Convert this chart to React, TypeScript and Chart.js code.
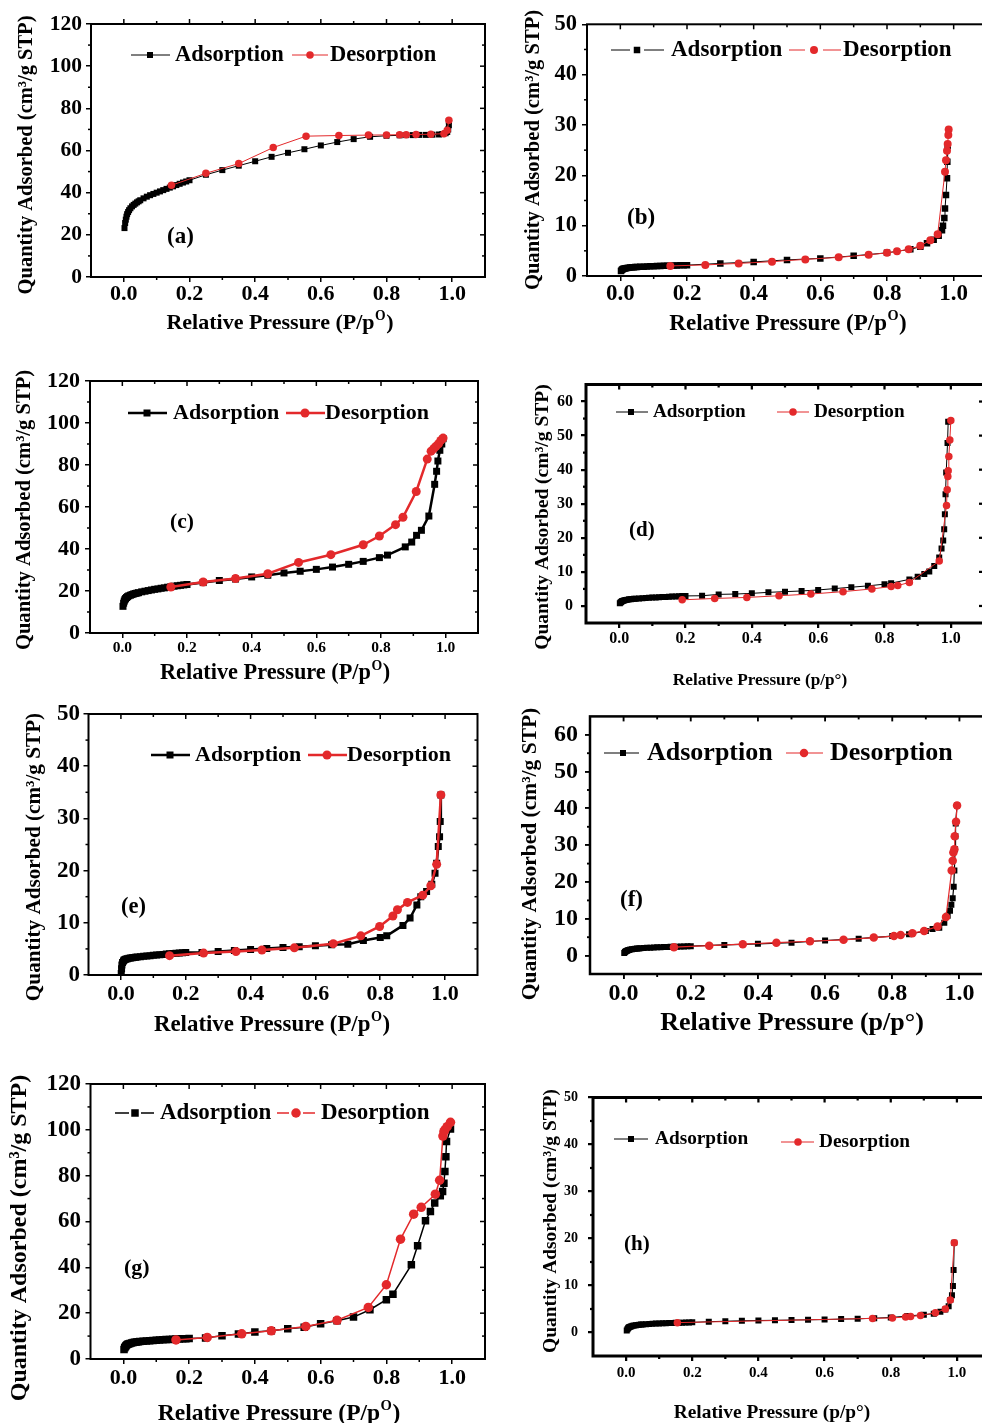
import React, { useEffect, useRef } from 'react';
import { Chart, registerables } from 'chart.js';

Chart.register(...registerables);

const SERIF = '"Liberation Serif", "Times New Roman", Times, serif';
const RED = '#e3292b';
const BLACK = '#000000';

// ---------- axis ticks ----------
const xTickValues = [0, 0.2, 0.4, 0.6, 0.8, 1.0];
const xMinorValues = [0.1, 0.3, 0.5, 0.7, 0.9];
const yTicks120 = [0, 20, 40, 60, 80, 100, 120];
const yMinor120 = [10, 30, 50, 70, 90, 110];
const yTicks50 = [0, 10, 20, 30, 40, 50];
const yMinor50 = [5, 15, 25, 35, 45];
const yTicks60 = [0, 10, 20, 30, 40, 50, 60];
const yMinor60 = [5, 15, 25, 35, 45, 55];

// ---------- texts ----------
const xTitleUpper = ['Relative Pressure (P/p', 'O', ')'];
const xTitleLower = ['Relative Pressure (p/p°)', '', ''];
const yTitleText = 'Quantity Adsorbed (cm³/g STP)';
const seriesNames = ['Adsorption', 'Desorption'];

// ---------- data ----------
const lowP = [0.002, 0.004, 0.006, 0.008, 0.01, 0.013, 0.016, 0.02, 0.025, 0.03, 0.035, 0.04, 0.045, 0.05, 0.06, 0.07, 0.08, 0.09, 0.1, 0.11, 0.12, 0.13, 0.14, 0.15, 0.16, 0.17, 0.18, 0.19, 0.2];

// (a)
const aAdsP = [...lowP, 0.25, 0.3, 0.35, 0.4, 0.45, 0.5, 0.55, 0.6, 0.65, 0.7, 0.75, 0.8, 0.84, 0.86, 0.88, 0.9, 0.92, 0.94, 0.96, 0.97, 0.98, 0.985, 0.988, 0.99, 0.99];
const aAdsQ = [23.2, 25.6, 27.2, 28.6, 29.8, 30.8, 31.7, 32.6, 33.5, 34.2, 34.8, 35.4, 35.9, 36.4, 37.3, 38.1, 38.8, 39.4, 40.0, 40.6, 41.2, 41.8, 42.4, 43.0, 43.6, 44.2, 44.8, 45.3, 45.9,
  48.5, 50.7, 52.8, 54.9, 57.0, 58.9, 60.6, 62.4, 64.0, 65.4, 66.5, 67.0, 67.2, 67.3, 67.3, 67.4, 67.4, 67.5, 67.6, 67.8, 68.2, 68.8, 70.0, 72.0, 74.0];
const aDesP = [0.145, 0.25, 0.35, 0.455, 0.555, 0.655, 0.745, 0.8, 0.84, 0.86, 0.89, 0.935, 0.975, 0.985, 0.99];
const aDesQ = [43.5, 49.2, 53.8, 61.4, 66.8, 67.1, 67.3, 67.4, 67.5, 67.5, 67.6, 67.7, 68.0, 69.6, 74.4];

// (b)
const bAdsP = [...lowP, 0.3, 0.4, 0.5, 0.6, 0.7, 0.8, 0.87, 0.9, 0.92, 0.94, 0.955, 0.965, 0.968, 0.972, 0.974, 0.977, 0.98, 0.981, 0.982];
const bAdsQ = [1.0, 1.2, 1.3, 1.4, 1.45, 1.5, 1.55, 1.6, 1.65, 1.7, 1.72, 1.75, 1.78, 1.8, 1.83, 1.86, 1.89, 1.92, 1.95, 1.97, 2.0, 2.02, 2.04, 2.06, 2.08, 2.1, 2.12, 2.14, 2.16,
  2.5, 2.8, 3.2, 3.5, 4.0, 4.6, 5.3, 5.8, 6.5, 7.2, 8.0, 9.1, 10.0, 11.5, 13.4, 16.1, 19.4, 22.7, 25.8];
const bDesP = [0.15, 0.255, 0.355, 0.455, 0.555, 0.655, 0.745, 0.8, 0.83, 0.865, 0.9, 0.93, 0.952, 0.974, 0.977, 0.98, 0.982, 0.984, 0.985];
const bDesQ = [2.0, 2.2, 2.5, 2.85, 3.3, 3.7, 4.2, 4.6, 4.9, 5.3, 6.0, 7.1, 8.3, 20.7, 23.0, 24.9, 26.2, 28.0, 29.1];

// (c)
const cAdsP = [...lowP, 0.25, 0.3, 0.35, 0.4, 0.45, 0.5, 0.55, 0.6, 0.65, 0.7, 0.745, 0.795, 0.82, 0.875, 0.895, 0.91, 0.925, 0.948, 0.966, 0.972, 0.976, 0.982, 0.988, 0.992];
const cAdsQ = [12.7, 14.2, 15.2, 15.9, 16.4, 16.9, 17.3, 17.7, 18.0, 18.3, 18.6, 18.8, 19.0, 19.2, 19.6, 19.9, 20.2, 20.5, 20.8, 21.0, 21.3, 21.5, 21.8, 22.0, 22.3, 22.5, 22.7, 22.9, 23.1,
  24.0, 25.0, 25.7, 26.7, 27.5, 28.6, 29.4, 30.3, 31.4, 32.7, 34.1, 35.9, 37.1, 41.0, 43.3, 46.5, 48.9, 55.7, 70.8, 77.0, 81.9, 87.0, 90.0, 92.5];
const cDesP = [0.15, 0.25, 0.35, 0.45, 0.545, 0.645, 0.745, 0.795, 0.845, 0.868, 0.909, 0.943, 0.955, 0.963, 0.97, 0.978, 0.985, 0.992];
const cDesQ = [21.9, 24.3, 25.9, 28.2, 33.6, 37.3, 42.0, 46.2, 51.6, 55.1, 67.4, 82.8, 86.6, 87.8, 88.9, 90.1, 91.7, 92.8];

// (d)
const dAdsP = [...lowP, 0.25, 0.3, 0.35, 0.4, 0.45, 0.5, 0.55, 0.6, 0.65, 0.7, 0.75, 0.8, 0.82, 0.875, 0.9, 0.92, 0.935, 0.95, 0.965, 0.972, 0.977, 0.98, 0.982, 0.984, 0.986, 0.99, 0.992];
const dAdsQ = [0.8, 1.0, 1.2, 1.35, 1.45, 1.55, 1.65, 1.75, 1.85, 1.95, 2.0, 2.05, 2.1, 2.15, 2.2, 2.3, 2.35, 2.4, 2.45, 2.5, 2.55, 2.6, 2.65, 2.7, 2.75, 2.8, 2.85, 2.9, 2.95,
  3.0, 3.4, 3.5, 3.7, 4.0, 4.2, 4.4, 4.7, 5.1, 5.5, 5.9, 6.4, 6.7, 7.8, 8.6, 9.4, 10.1, 11.7, 14.2, 16.9, 19.2, 22.5, 26.9, 32.8, 39.2, 47.8, 54.1];
const dDesP = [0.19, 0.288, 0.385, 0.482, 0.578, 0.675, 0.762, 0.82, 0.84, 0.875, 0.965, 0.987, 0.989, 0.991, 0.992, 0.994, 0.997, 1.0];
const dDesQ = [1.8, 2.2, 2.5, 3.0, 3.5, 4.2, 5.0, 5.7, 6.0, 6.9, 13.2, 29.5, 34.1, 38.0, 39.7, 43.9, 48.7, 54.4];

// (e)
const eAdsP = [0.001, 0.002, 0.003, 0.005, 0.008, 0.01, 0.013, 0.016, 0.02, 0.025, 0.03, 0.035, 0.04, 0.045, 0.05, 0.06, 0.07, 0.08, 0.09, 0.1, 0.11, 0.12, 0.13, 0.14, 0.15, 0.16, 0.17, 0.18, 0.19, 0.2,
  0.25, 0.3, 0.35, 0.4, 0.45, 0.5, 0.55, 0.6, 0.65, 0.7, 0.748, 0.8, 0.82, 0.87, 0.892, 0.913, 0.925, 0.943, 0.959, 0.969, 0.974, 0.979, 0.983, 0.985, 0.987];
const eAdsQ = [0.3, 1.2, 1.9, 2.4, 2.7, 2.85, 2.95, 3.05, 3.1, 3.2, 3.25, 3.3, 3.35, 3.4, 3.45, 3.5, 3.6, 3.65, 3.7, 3.8, 3.85, 3.9, 3.95, 4.0, 4.05, 4.1, 4.15, 4.2, 4.25, 4.3,
  4.3, 4.5, 4.7, 4.9, 5.1, 5.25, 5.4, 5.6, 5.8, 5.9, 6.6, 7.2, 7.5, 9.5, 10.9, 13.4, 15.0, 16.0, 17.4, 19.5, 21.4, 24.6, 26.5, 29.4, 34.5];
const eDesP = [0.15, 0.255, 0.355, 0.435, 0.535, 0.655, 0.74, 0.798, 0.839, 0.853, 0.884, 0.931, 0.956, 0.974, 0.987];
const eDesQ = [3.7, 4.2, 4.5, 4.8, 5.2, 6.0, 7.5, 9.3, 11.3, 12.5, 13.9, 15.3, 17.1, 21.2, 34.5];

// (f)
const fAdsP = [...lowP, 0.3, 0.4, 0.5, 0.6, 0.7, 0.8, 0.85, 0.9, 0.92, 0.94, 0.955, 0.965, 0.972, 0.976, 0.98, 0.983, 0.985, 0.987, 0.988, 0.989, 0.993];
const fAdsQ = [0.7, 0.95, 1.1, 1.25, 1.35, 1.45, 1.55, 1.65, 1.75, 1.8, 1.85, 1.9, 1.95, 2.0, 2.05, 2.1, 2.15, 2.2, 2.25, 2.3, 2.32, 2.35, 2.38, 2.4, 2.43, 2.46, 2.49, 2.52, 2.55,
  2.9, 3.2, 3.5, 4.1, 4.6, 5.3, 5.8, 6.7, 7.2, 7.6, 8.9, 10.8, 12.2, 13.8, 15.6, 18.7, 23.1, 28.9, 32.4, 35.9, 40.8];
const fDesP = [0.15, 0.255, 0.355, 0.455, 0.555, 0.655, 0.745, 0.805, 0.825, 0.86, 0.895, 0.935, 0.96, 0.977, 0.98, 0.982, 0.985, 0.986, 0.99, 0.993];
const fDesQ = [2.3, 2.7, 3.1, 3.5, 3.9, 4.3, 4.9, 5.3, 5.6, 6.1, 6.7, 7.9, 10.5, 23.1, 25.8, 28.0, 28.9, 32.4, 36.4, 40.8];

// (g)
const gAdsP = [...lowP, 0.25, 0.3, 0.35, 0.4, 0.45, 0.5, 0.55, 0.6, 0.65, 0.7, 0.75, 0.8, 0.82, 0.876, 0.895, 0.919, 0.934, 0.947, 0.964, 0.971, 0.975, 0.978, 0.981, 0.983, 0.995];
const gAdsQ = [4.1, 4.9, 5.4, 5.8, 6.1, 6.4, 6.6, 6.8, 7.0, 7.15, 7.3, 7.4, 7.5, 7.6, 7.75, 7.9, 8.0, 8.1, 8.2, 8.3, 8.4, 8.5, 8.55, 8.6, 8.7, 8.75, 8.8, 8.85, 8.9,
  9.2, 10.2, 10.9, 11.8, 12.3, 13.2, 13.9, 15.4, 16.7, 18.3, 21.5, 25.9, 28.3, 41.1, 49.4, 60.3, 64.4, 68.1, 71.2, 73.1, 76.7, 81.8, 88.3, 94.9, 100.4];
const gDesP = [0.16, 0.255, 0.36, 0.45, 0.555, 0.65, 0.745, 0.8, 0.843, 0.883, 0.906, 0.949, 0.962, 0.972, 0.975, 0.978, 0.985, 0.995];
const gDesQ = [8.3, 9.4, 11.0, 12.3, 14.2, 16.9, 22.5, 32.4, 52.3, 63.2, 66.2, 71.9, 78.0, 97.3, 99.2, 100.0, 101.4, 103.3];

// (h)
const hAdsP = [...lowP, 0.25, 0.3, 0.35, 0.4, 0.45, 0.5, 0.55, 0.6, 0.65, 0.7, 0.75, 0.8, 0.85, 0.9, 0.93, 0.95, 0.965, 0.975, 0.98, 0.985, 0.988, 0.99, 0.992];
const hAdsQ = [0.4, 0.7, 0.9, 1.05, 1.15, 1.25, 1.35, 1.45, 1.5, 1.55, 1.6, 1.65, 1.7, 1.72, 1.77, 1.82, 1.86, 1.9, 1.93, 1.96, 1.99, 2.02, 2.04, 2.06, 2.08, 2.1, 2.12, 2.14, 2.16,
  2.3, 2.4, 2.5, 2.55, 2.6, 2.65, 2.7, 2.75, 2.85, 2.9, 3.05, 3.2, 3.5, 3.8, 4.0, 4.4, 4.9, 5.6, 6.9, 7.9, 9.9, 13.3, 19.1];
const hDesP = [0.155, 0.745, 0.805, 0.845, 0.86, 0.89, 0.935, 0.965, 0.98, 0.992];
const hDesQ = [2.1, 3.0, 3.1, 3.3, 3.4, 3.6, 4.2, 5.0, 6.9, 19.1];

// ---------- panel layout ----------
type Panel = {
  key: string;
  box: number[];
  area: number[];
  yMin: number; yMax: number; yTicks: number[]; yMinor: number[]; rightMinor: boolean; topOut: boolean;
  adsP: number[]; adsQ: number[]; desP: number[]; desQ: number[];
  lineW: number; sq: number; circ: number; frameW: number;
  yTickFont: number; xTickFont: number; yLabelRight: number; xLabelMid: number;
  xTitle: string[]; xTitleFont: number; xTitlePos: number[];
  yTitleFont: number; yTitlePos: number[];
  legendFont: number; legY: number[]; adsLeg: number[]; desLeg: number[]; legGap: number[];
  label: string; labelFont: number; labelPos: number[];
};

const panels: Panel[] = [
  {
    key: 'a', box: [0, 0, 491, 345], area: [91, 24, 485, 277],
    yMin: 0, yMax: 120, yTicks: yTicks120, yMinor: yMinor120, rightMinor: true, topOut: true,
    adsP: aAdsP, adsQ: aAdsQ, desP: aDesP, desQ: aDesQ,
    lineW: 1, sq: 6, circ: 7.5, frameW: 2,
    yTickFont: 21.5, xTickFont: 22, yLabelRight: 82, xLabelMid: 294.5,
    xTitle: xTitleUpper, xTitleFont: 22, xTitlePos: [280, 322],
    yTitleFont: 20.5, yTitlePos: [27, 155],
    legendFont: 22.5, legY: [55, 55], adsLeg: [131, 170, 150, 175], desLeg: [292, 328, 310, 330], legGap: [0, 0],
    label: '(a)', labelFont: 23, labelPos: [167, 237],
  },
  {
    key: 'b', box: [491, 0, 505, 345], area: [587, 24.3, 987, 276],
    yMin: 0, yMax: 50, yTicks: yTicks50, yMinor: yMinor50, rightMinor: false, topOut: false,
    adsP: bAdsP, adsQ: bAdsQ, desP: bDesP, desQ: bDesQ,
    lineW: 1, sq: 6.5, circ: 8, frameW: 2,
    yTickFont: 22.5, xTickFont: 23, yLabelRight: 577, xLabelMid: 294,
    xTitle: xTitleUpper, xTitleFont: 23, xTitlePos: [788, 322],
    yTitleFont: 20.6, yTitlePos: [534, 150],
    legendFont: 23, legY: [50, 50], adsLeg: [611, 664, 637, 671], desLeg: [789, 841, 814, 843], legGap: [7, 9],
    label: '(b)', labelFont: 23, labelPos: [627, 218],
  },
  {
    key: 'c', box: [0, 345, 491, 345], area: [90, 381, 478, 633],
    yMin: 0, yMax: 120, yTicks: yTicks120, yMinor: yMinor120, rightMinor: true, topOut: false,
    adsP: cAdsP, adsQ: cAdsQ, desP: cDesP, desQ: cDesQ,
    lineW: 2.5, sq: 7, circ: 9, frameW: 2,
    yTickFont: 22, xTickFont: 15.5, yLabelRight: 80, xLabelMid: 647.5,
    xTitle: xTitleUpper, xTitleFont: 22.3, xTitlePos: [275, 672],
    yTitleFont: 20.6, yTitlePos: [25, 510],
    legendFont: 22, legY: [413, 413], adsLeg: [128, 167, 147, 173], desLeg: [286, 325, 305, 325], legGap: [0, 0],
    label: '(c)', labelFont: 21.5, labelPos: [170, 522],
  },
  {
    key: 'd', box: [491, 345, 505, 350], area: [586, 384.5, 984, 623],
    yMin: -5, yMax: 65, yTicks: yTicks60, yMinor: yMinor60, rightMinor: false, topOut: false,
    adsP: dAdsP, adsQ: dAdsQ, desP: dDesP, desQ: dDesQ,
    lineW: 1, sq: 6, circ: 7.5, frameW: 3,
    yTickFont: 16, xTickFont: 16, yLabelRight: 573, xLabelMid: 639.3,
    xTitle: xTitleLower, xTitleFont: 17.2, xTitlePos: [760, 679],
    yTitleFont: 19.5, yTitlePos: [543, 517],
    legendFont: 19.2, legY: [412, 412], adsLeg: [616, 648, 631, 653], desLeg: [777, 809, 793, 814], legGap: [0, 0],
    label: '(d)', labelFont: 21, labelPos: [629, 531],
  },
  {
    key: 'e', box: [0, 695, 491, 350], area: [88.5, 714, 477.5, 975],
    yMin: 0, yMax: 50, yTicks: yTicks50, yMinor: yMinor50, rightMinor: true, topOut: false,
    adsP: eAdsP, adsQ: eAdsQ, desP: eDesP, desQ: eDesQ,
    lineW: 2.5, sq: 7, circ: 9, frameW: 2,
    yTickFont: 23, xTickFont: 22, yLabelRight: 80, xLabelMid: 994,
    xTitle: xTitleUpper, xTitleFont: 22.9, xTitlePos: [272, 1023],
    yTitleFont: 21.2, yTitlePos: [35, 857],
    legendFont: 22, legY: [755, 755], adsLeg: [151, 190, 170, 195], desLeg: [308, 347, 327, 347], legGap: [0, 0],
    label: '(e)', labelFont: 22.5, labelPos: [121, 907],
  },
  {
    key: 'f', box: [491, 695, 510, 350], area: [590, 711, 993, 974],
    yMin: -5, yMax: 65, yTicks: yTicks60, yMinor: yMinor60, rightMinor: false, topOut: false,
    adsP: fAdsP, adsQ: fAdsQ, desP: fDesP, desQ: fDesQ,
    lineW: 1.2, sq: 6, circ: 8.5, frameW: 2.5,
    yTickFont: 24, xTickFont: 24, yLabelRight: 578, xLabelMid: 993.3,
    xTitle: xTitleLower, xTitleFont: 26, xTitlePos: [792, 1021],
    yTitleFont: 21.5, yTitlePos: [530, 854],
    legendFont: 26, legY: [753, 753], adsLeg: [604, 639, 623, 647], desLeg: [786, 823, 804, 830], legGap: [0, 0],
    label: '(f)', labelFont: 23, labelPos: [620, 900],
  },
  {
    key: 'g', box: [0, 1060, 491, 363], area: [90.5, 1084, 485, 1359],
    yMin: 0, yMax: 120, yTicks: yTicks120, yMinor: yMinor120, rightMinor: true, topOut: false,
    adsP: gAdsP, adsQ: gAdsQ, desP: gDesP, desQ: gDesQ,
    lineW: 1.5, sq: 7.5, circ: 9.5, frameW: 2,
    yTickFont: 23, xTickFont: 22, yLabelRight: 81, xLabelMid: 1378.3,
    xTitle: xTitleUpper, xTitleFont: 23.5, xTitlePos: [279, 1412],
    yTitleFont: 24, yTitlePos: [20, 1238],
    legendFont: 23, legY: [1113, 1113], adsLeg: [115, 154, 135, 160], desLeg: [277, 315, 296, 321], legGap: [6, 7],
    label: '(g)', labelFont: 22, labelPos: [124, 1268],
  },
  {
    key: 'h', box: [491, 1060, 510, 363], area: [593, 1097.5, 990, 1356],
    yMin: -5, yMax: 50, yTicks: yTicks50, yMinor: yMinor50, rightMinor: false, topOut: false,
    adsP: hAdsP, adsQ: hAdsQ, desP: hDesP, desQ: hDesQ,
    lineW: 1, sq: 6, circ: 7.5, frameW: 3,
    yTickFont: 14, xTickFont: 15, yLabelRight: 578, xLabelMid: 1372.7,
    xTitle: xTitleLower, xTitleFont: 19.4, xTitlePos: [772, 1412],
    yTitleFont: 19.4, yTitlePos: [551, 1221],
    legendFont: 19.3, legY: [1139, 1142], adsLeg: [614, 648, 631, 655], desLeg: [781, 814, 798, 819], legGap: [0, 0],
    label: '(h)', labelFont: 21, labelPos: [624, 1245],
  },
];

const TICK_MAJOR = 5;
const TICK_MINOR = 3;

function font(size: number) {
  return `bold ${size}px ${SERIF}`;
}

function decoPlugin(p: Panel) {
  return {
    id: 'deco_' + p.key,
    afterDraw(chart: any) {
      const ctx: CanvasRenderingContext2D = chart.ctx;
      const a = chart.chartArea;
      const xs = chart.scales.x;
      const ys = chart.scales.y;
      const ox = p.box[0];
      const oy = p.box[1];
      ctx.save();
      ctx.strokeStyle = BLACK;
      ctx.fillStyle = BLACK;
      ctx.lineCap = 'butt';
      // frame
      ctx.lineWidth = p.frameW;
      ctx.strokeRect(a.left, a.top, a.right - a.left, a.bottom - a.top);
      // ticks
      ctx.lineWidth = Math.max(1.2, p.frameW * 0.75);
      const seg = (x1: number, y1: number, x2: number, y2: number) => {
        ctx.beginPath();
        ctx.moveTo(x1, y1);
        ctx.lineTo(x2, y2);
        ctx.stroke();
      };
      const topDir = p.topOut ? -1 : 1;
      xMinorValues.forEach((v) => {
        const x = xs.getPixelForValue(v);
        seg(x, a.bottom, x, a.bottom + TICK_MINOR);
        seg(x, a.top, x, a.top + topDir * TICK_MINOR);
      });
      xTickValues.forEach((v) => {
        const x = xs.getPixelForValue(v);
        seg(x, a.top, x, a.top + topDir * TICK_MAJOR);
      });
      p.yMinor.forEach((v) => {
        const y = ys.getPixelForValue(v);
        seg(a.left, y, a.left - TICK_MINOR, y);
        if (p.rightMinor) seg(a.right, y, a.right - TICK_MINOR, y);
      });
      p.yTicks.forEach((v) => {
        const y = ys.getPixelForValue(v);
        seg(a.right, y, a.right - TICK_MAJOR, y);
      });

      // x title
      {
        const [main, sup, tail] = p.xTitle;
        const size = p.xTitleFont;
        const cx = p.xTitlePos[0] - ox;
        const cy = p.xTitlePos[1] - oy;
        const supSize = size * 0.62;
        ctx.font = font(size);
        const w1 = ctx.measureText(main).width;
        const w3 = tail ? ctx.measureText(tail).width : 0;
        ctx.font = font(supSize);
        const w2 = sup ? ctx.measureText(sup).width + 1 : 0;
        let x = cx - (w1 + w2 + w3) / 2;
        const base = cy + size * 0.33;
        ctx.textAlign = 'left';
        ctx.textBaseline = 'alphabetic';
        ctx.font = font(size);
        ctx.fillText(main, x, base);
        x += w1;
        if (sup) {
          ctx.font = font(supSize);
          ctx.fillText(sup, x + 0.5, base - size * 0.42);
          x += w2;
        }
        if (tail) {
          ctx.font = font(size);
          ctx.fillText(tail, x, base);
        }
      }

      // y title
      ctx.save();
      ctx.translate(p.yTitlePos[0] - ox, p.yTitlePos[1] - oy);
      ctx.rotate(-Math.PI / 2);
      ctx.font = font(p.yTitleFont);
      ctx.textAlign = 'center';
      ctx.textBaseline = 'middle';
      ctx.fillText(yTitleText, 0, 0);
      ctx.restore();

      // legend
      const legendItem = (spec: number[], y: number, color: string, shape: string, gap: number, text: string) => {
        const [x1, x2, mx, tx] = spec.map((v) => v - ox);
        const yy = y - oy;
        ctx.strokeStyle = color;
        ctx.fillStyle = color;
        ctx.lineWidth = p.lineW;
        if (gap > 0) {
          seg(x1, yy, mx - gap, yy);
          seg(mx + gap, yy, x2, yy);
        } else {
          seg(x1, yy, x2, yy);
        }
        if (shape === 'rect') {
          const s = p.sq;
          ctx.fillRect(mx - s / 2, yy - s / 2, s, s);
        } else {
          ctx.beginPath();
          ctx.arc(mx, yy, p.circ / 2, 0, Math.PI * 2);
          ctx.fill();
        }
        ctx.fillStyle = BLACK;
        ctx.font = font(p.legendFont);
        ctx.textAlign = 'left';
        ctx.textBaseline = 'middle';
        ctx.fillText(text, tx, yy);
      };
      legendItem(p.adsLeg, p.legY[0], BLACK, 'rect', p.legGap[0], seriesNames[0]);
      legendItem(p.desLeg, p.legY[1], RED, 'circle', p.legGap[1], seriesNames[1]);

      // panel label
      ctx.fillStyle = BLACK;
      ctx.font = font(p.labelFont);
      ctx.textAlign = 'left';
      ctx.textBaseline = 'middle';
      ctx.fillText(p.label, p.labelPos[0] - ox, p.labelPos[1] - oy);

      ctx.restore();
    },
  };
}

function buildConfig(p: Panel): any {
  const [bx, by, bw, bh] = p.box;
  const [L, T, R, B] = p.area;
  const xPad = p.xLabelMid - B - TICK_MAJOR - (p.xTickFont * 1.2) / 2;
  const yPad = L - TICK_MAJOR - p.yLabelRight;
  const gridOpts = {
    display: true,
    drawOnChartArea: false,
    drawTicks: true,
    tickLength: TICK_MAJOR,
    color: BLACK,
    lineWidth: Math.max(1.2, p.frameW * 0.75),
  };
  return {
    type: 'scatter',
    data: {
      datasets: [
        {
          label: seriesNames[0],
          data: p.adsP.map((x, i) => ({ x, y: p.adsQ[i] })),
          showLine: true,
          borderColor: BLACK,
          backgroundColor: BLACK,
          borderWidth: p.lineW,
          pointStyle: 'rect',
          pointRadius: p.sq / Math.SQRT2,
          pointHoverRadius: p.sq / Math.SQRT2,
          pointBorderWidth: 0,
          pointBackgroundColor: BLACK,
          tension: 0,
          order: 2,
        },
        {
          label: seriesNames[1],
          data: p.desP.map((x, i) => ({ x, y: p.desQ[i] })),
          showLine: true,
          borderColor: RED,
          backgroundColor: RED,
          borderWidth: p.lineW,
          pointStyle: 'circle',
          pointRadius: p.circ / 2,
          pointHoverRadius: p.circ / 2,
          pointBorderWidth: 0,
          pointBackgroundColor: RED,
          tension: 0,
          order: 1,
        },
      ],
    },
    options: {
      responsive: false,
      maintainAspectRatio: false,
      animation: false,
      devicePixelRatio: 1,
      events: [],
      layout: { padding: { left: 0, top: T - by, right: bx + bw - R, bottom: 0 } },
      plugins: { legend: { display: false }, tooltip: { enabled: false }, title: { display: false } },
      scales: {
        x: {
          type: 'linear',
          min: -0.1,
          max: 1.1,
          afterBuildTicks: (s: any) => {
            s.ticks = xTickValues.map((v) => ({ value: v }));
          },
          afterFit: (s: any) => {
            s.height = by + bh - B;
          },
          ticks: {
            autoSkip: false,
            maxRotation: 0,
            minRotation: 0,
            padding: xPad,
            color: BLACK,
            font: { family: SERIF, size: p.xTickFont, weight: 'bold' },
            callback: (v: any) => Number(v).toFixed(1),
          },
          grid: gridOpts,
          border: { display: false },
        },
        y: {
          type: 'linear',
          min: p.yMin,
          max: p.yMax,
          afterBuildTicks: (s: any) => {
            s.ticks = p.yTicks.map((v) => ({ value: v }));
          },
          afterFit: (s: any) => {
            s.width = L - bx;
          },
          ticks: {
            autoSkip: false,
            padding: yPad,
            color: BLACK,
            font: { family: SERIF, size: p.yTickFont, weight: 'bold' },
            callback: (v: any) => String(v),
          },
          grid: gridOpts,
          border: { display: false },
        },
      },
    },
    plugins: [decoPlugin(p)],
  };
}

function PanelChart({ p }: { p: Panel }) {
  const ref = useRef<HTMLCanvasElement>(null);
  useEffect(() => {
    const chart = new Chart(ref.current as HTMLCanvasElement, buildConfig(p));
    return () => chart.destroy();
  }, [p]);
  return (
    <canvas
      ref={ref}
      width={p.box[2]}
      height={p.box[3]}
      style={{ position: 'absolute', left: p.box[0], top: p.box[1], width: p.box[2], height: p.box[3] }}
    />
  );
}

export default function App() {
  return (
    <div
      style={{
        position: 'absolute',
        left: 0,
        top: 0,
        width: 982,
        height: 1423,
        overflow: 'hidden',
        background: '#ffffff',
      }}
    >
      {panels.map((p) => (
        <PanelChart key={p.key} p={p} />
      ))}
    </div>
  );
}
